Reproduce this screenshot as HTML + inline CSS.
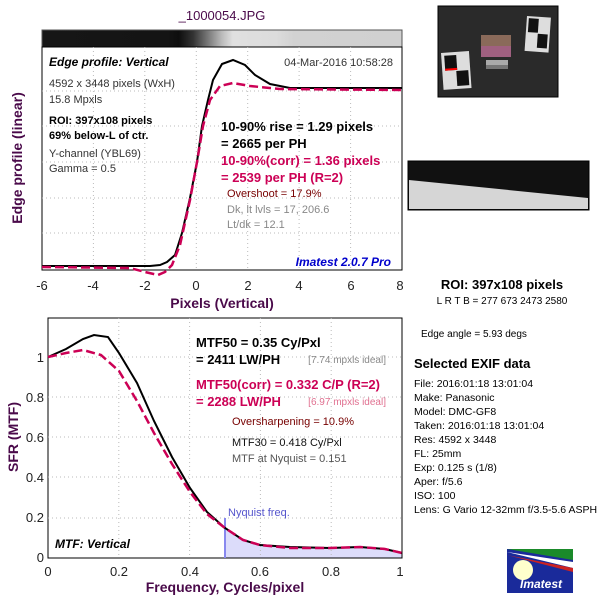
<!DOCTYPE html>
<html><head><meta charset="utf-8"><style>
body{margin:0;background:#fff;width:600px;height:600px;overflow:hidden}
text{font-family:"Liberation Sans",sans-serif}
</style></head><body>
<svg width="600" height="600" viewBox="0 0 600 600" xmlns="http://www.w3.org/2000/svg">
<defs>
<linearGradient id="gb" x1="0" x2="1">
<stop offset="0" stop-color="#161616"/><stop offset="0.35" stop-color="#141414"/><stop offset="0.38" stop-color="#0e0e0e"/><stop offset="0.42" stop-color="#333"/><stop offset="0.46" stop-color="#777"/><stop offset="0.5" stop-color="#bbb"/><stop offset="0.53" stop-color="#e0e0e0"/><stop offset="0.65" stop-color="#dcdcdc"/><stop offset="0.7" stop-color="#d2d2d2"/><stop offset="1" stop-color="#d0d0d0"/>
</linearGradient>
</defs>
<text x="222" y="20" text-anchor="middle" font-size="13" fill="#4a0a4a">_1000054.JPG</text>
<rect x="42" y="30" width="360" height="17" fill="url(#gb)" stroke="#555"/>
<!-- top plot -->
<rect x="42" y="47" width="360" height="223" fill="none" stroke="#000"/>
<g stroke="#bbb" stroke-dasharray="1,3">
<line x1="42" x2="402" y1="91" y2="91"/><line x1="42" x2="402" y1="126" y2="126"/><line x1="42" x2="402" y1="162" y2="162"/><line x1="42" x2="402" y1="198" y2="198"/><line x1="42" x2="402" y1="233" y2="233"/>
<line x1="93.4" x2="93.4" y1="47" y2="270"/><line x1="144.8" x2="144.8" y1="47" y2="270"/><line x1="196.3" x2="196.3" y1="47" y2="270"/><line x1="247.7" x2="247.7" y1="47" y2="270"/><line x1="299.1" x2="299.1" y1="47" y2="270"/><line x1="350.6" x2="350.6" y1="47" y2="270"/>
</g>
<g font-size="13" fill="#222" text-anchor="middle">
<text x="42" y="290">-6</text><text x="93" y="290">-4</text><text x="145" y="290">-2</text><text x="196" y="290">0</text><text x="248" y="290">2</text><text x="299" y="290">4</text><text x="351" y="290">6</text><text x="400" y="290">8</text>
</g>
<text x="222" y="308" text-anchor="middle" font-size="14" font-weight="bold" fill="#4a0a4a">Pixels (Vertical)</text>
<text transform="translate(22,158) rotate(-90)" text-anchor="middle" font-size="14" font-weight="bold" fill="#4a0a4a">Edge profile (linear)</text>
<polyline fill="none" stroke="#000" stroke-width="2" points="42,266 150,266 160,265 167,262 175,255 182,233 190,198 197,162 202,126 208,100 213,80 222,64 233,60 245,65 255,75 270,84 290,88 402,88"/>
<polyline fill="none" stroke="#cc0055" stroke-width="2.5" stroke-dasharray="9,4" points="42,267 130,268 145,272 158,275 165,272 172,265 180,245 190,200 197,162 203,126 210,100 220,86 233,83 250,86 280,89 402,90"/>
<text x="49" y="66" font-size="12" font-weight="bold" font-style="italic">Edge profile: Vertical</text>
<text x="393" y="66" text-anchor="end" font-size="11" fill="#333">04-Mar-2016 10:58:28</text>
<g font-size="11" fill="#333"><text x="49" y="87">4592 x 3448 pixels (WxH)</text><text x="49" y="103">15.8 Mpxls</text></g>
<g font-size="11" font-weight="bold" fill="#000"><text x="49" y="124">ROI: 397x108 pixels</text><text x="49" y="139">69% below-L of ctr.</text></g>
<g font-size="11" fill="#333"><text x="49" y="157">Y-channel  (YBL69)</text><text x="49" y="172">Gamma = 0.5</text></g>
<g font-size="13" font-weight="bold"><text x="221" y="131">10-90% rise = 1.29 pixels</text><text x="221" y="148">= 2665 per PH</text>
<text x="221" y="165" fill="#cc0055">10-90%(corr) = 1.36 pixels</text><text x="221" y="182" fill="#cc0055">= 2539 per PH  (R=2)</text></g>
<text x="227" y="197" font-size="11" fill="#700">Overshoot = 17.9%</text>
<g font-size="11" fill="#888"><text x="227" y="213">Dk, lt lvls = 17, 206.6</text><text x="227" y="228">Lt/dk = 12.1</text></g>
<text x="391" y="266" text-anchor="end" font-size="12" font-weight="bold" font-style="italic" fill="#0000cc">Imatest 2.0.7 Pro</text>
<!-- bottom plot -->
<polygon fill="#dcdcfa" points="225,558 225,529 240,537 255,543 268,545 300,547 330,548 360,548 385,549 402,553 402,558"/>
<rect x="48" y="318" width="354" height="240" fill="none" stroke="#000"/>
<g stroke="#bbb" stroke-dasharray="1,3">
<line x1="48" x2="402" y1="357" y2="357"/><line x1="48" x2="402" y1="397" y2="397"/><line x1="48" x2="402" y1="437" y2="437"/><line x1="48" x2="402" y1="477" y2="477"/><line x1="48" x2="402" y1="518" y2="518"/>
<line x1="118.8" x2="118.8" y1="318" y2="558"/><line x1="189.6" x2="189.6" y1="318" y2="558"/><line x1="260.4" x2="260.4" y1="318" y2="558"/><line x1="331.2" x2="331.2" y1="318" y2="558"/>
</g>
<g font-size="13" fill="#222" text-anchor="end">
<text x="44" y="362">1</text><text x="44" y="402">0.8</text><text x="44" y="442">0.6</text><text x="44" y="482">0.4</text><text x="44" y="522">0.2</text><text x="44" y="562">0</text>
</g>
<g font-size="13" fill="#222" text-anchor="middle">
<text x="48" y="576">0</text><text x="119" y="576">0.2</text><text x="190" y="576">0.4</text><text x="260" y="576">0.6</text><text x="331" y="576">0.8</text><text x="400" y="576">1</text>
</g>
<text x="225" y="592" text-anchor="middle" font-size="14" font-weight="bold" fill="#4a0a4a">Frequency, Cycles/pixel</text>
<text transform="translate(18,437) rotate(-90)" text-anchor="middle" font-size="14" font-weight="bold" fill="#4a0a4a">SFR (MTF)</text>
<line x1="225" x2="225" y1="518" y2="558" stroke="#8888ee" stroke-width="2"/>
<text x="228" y="516" font-size="11" fill="#5555cc">Nyquist freq.</text>
<polyline fill="none" stroke="#000" stroke-width="2" points="48,357 66,349 83,339 94,335 108,337 119,353 137,383 154,421 172,457 190,488 207,512 225,528 243,540 260,545 290,547 330,548 360,547 385,549 402,553"/>
<polyline fill="none" stroke="#cc0055" stroke-width="2.5" stroke-dasharray="9,4" points="48,357 66,353 83,350 101,355 119,371 137,401 154,433 172,464 190,492 207,514 225,528 243,540 260,545 290,548 330,548 360,547 385,549 402,553"/>
<g font-size="13" font-weight="bold"><text x="196" y="347">MTF50 = 0.35 Cy/Pxl</text><text x="196" y="364">= 2411 LW/PH</text>
<text x="196" y="389" fill="#cc0055">MTF50(corr) = 0.332 C/P  (R=2)</text><text x="196" y="406" fill="#cc0055">= 2288 LW/PH</text></g>
<text x="386" y="363" text-anchor="end" font-size="10" fill="#888">[7.74 mpxls ideal]</text>
<text x="386" y="405" text-anchor="end" font-size="10" fill="#e07090">[6.97 mpxls ideal]</text>
<text x="232" y="425" font-size="11" fill="#700">Oversharpening = 10.9%</text>
<text x="232" y="446" font-size="11" fill="#111">MTF30 = 0.418 Cy/Pxl</text>
<text x="232" y="462" font-size="11" fill="#555">MTF at Nyquist = 0.151</text>
<text x="55" y="548" font-size="12" font-weight="bold" font-style="italic">MTF: Vertical</text>
<!-- right side -->
<rect x="438" y="6" width="120" height="91" fill="#2a2a2a" stroke="#000"/>
<g transform="translate(441,53) rotate(-4)"><rect width="28" height="37" fill="#ddd"/><rect x="3" y="3" width="12" height="15" fill="#111"/><rect x="14" y="19" width="12" height="15" fill="#111"/><rect x="3" y="16" width="12" height="2" fill="#f00"/></g>
<g transform="translate(527,16) rotate(4)"><rect width="24" height="35" fill="#ddd"/><rect x="2" y="2" width="10" height="14" fill="#111"/><rect x="12" y="17" width="10" height="14" fill="#111"/></g>
<rect x="481" y="35" width="30" height="22" fill="#8a6a5a"/>
<rect x="481" y="46" width="30" height="11" fill="#a06080"/>
<rect x="486" y="60" width="22" height="7" fill="#aaa"/>
<rect x="486" y="65" width="22" height="4" fill="#777"/>
<rect x="408" y="161" width="181" height="49" fill="#111" stroke="#000"/>
<polygon points="409,180 588,198 588,209 409,209" fill="#d6d6d6"/>
<text x="502" y="289" text-anchor="middle" font-size="13" font-weight="bold">ROI: 397x108 pixels</text>
<text x="502" y="304" text-anchor="middle" font-size="10">L R  T B = 277 673  2473 2580</text>
<text x="421" y="337" font-size="10">Edge angle = 5.93 degs</text>
<text x="414" y="368" font-size="13" font-weight="bold">Selected EXIF data</text>
<g font-size="10.5"><text x="414" y="387">File:  2016:01:18 13:01:04</text><text x="414" y="401">Make:  Panasonic</text><text x="414" y="415">Model:  DMC-GF8</text><text x="414" y="429">Taken: 2016:01:18 13:01:04</text><text x="414" y="443">Res:   4592 x 3448</text><text x="414" y="457">FL:  25mm</text><text x="414" y="471">Exp:    0.125 s  (1/8)</text><text x="414" y="485">Aper:   f/5.6</text><text x="414" y="499">ISO:    100</text><text x="414" y="513">Lens:  G Vario 12-32mm f/3.5-5.6 ASPH</text></g>
<rect x="507" y="549" width="66" height="44" fill="#1a2a9a"/>
<polygon points="507,549 573,549 573,560" fill="#1a8a2a"/>
<polygon points="507,552 573,562 573,568" fill="#fff"/>
<polygon points="507,555 573,568 573,572" fill="#cc2222"/>
<circle cx="523" cy="570" r="10" fill="#ffffcc"/>
<text x="541" y="588" text-anchor="middle" font-size="12" font-weight="bold" font-style="italic" fill="#fff">Imatest</text>
</svg>
</body></html>
